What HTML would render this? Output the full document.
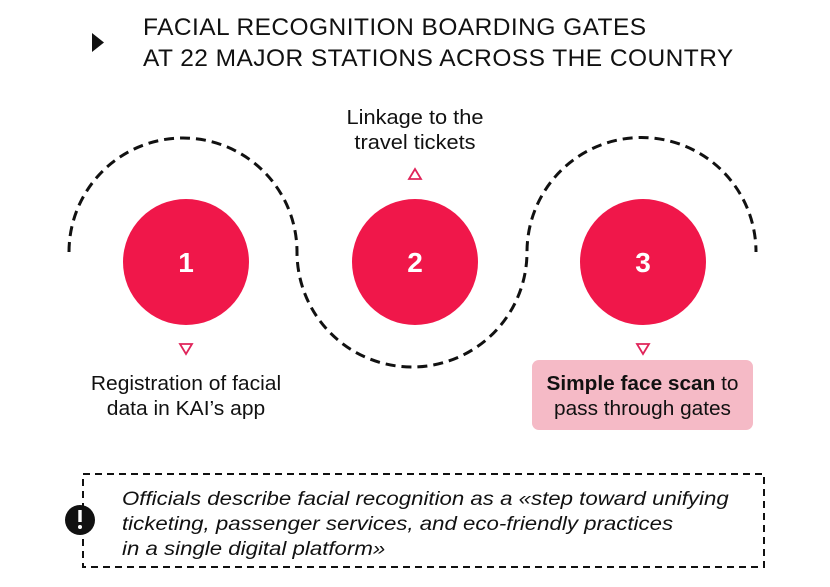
<!DOCTYPE html>
<html><head><meta charset="utf-8"><style>
body{margin:0;width:830px;height:587px;background:#fff;overflow:hidden;font-family:"Liberation Sans",sans-serif;color:#111}
.t{position:absolute;white-space:nowrap}
</style></head><body>
<svg width="830" height="587" style="position:absolute;left:0;top:0">
<polygon points="92,33 104,42.5 92,52" fill="#111"/>
<path d="M69,252 A114,114 0 0 1 297,252 A115,115 0 0 0 527,252 A114,114 0 0 1 756,252" fill="none" stroke="#111" stroke-width="3" stroke-dasharray="10,6"/>
<circle cx="186" cy="262" r="63" fill="#f0174a"/>
<circle cx="415" cy="262" r="63" fill="#f0174a"/>
<circle cx="643" cy="262" r="63" fill="#f0174a"/>
<text x="186" y="272" font-size="28" font-weight="bold" fill="#fff" text-anchor="middle" font-family="Liberation Sans">1</text>
<text x="415" y="272" font-size="28" font-weight="bold" fill="#fff" text-anchor="middle" font-family="Liberation Sans">2</text>
<text x="643" y="272" font-size="28" font-weight="bold" fill="#fff" text-anchor="middle" font-family="Liberation Sans">3</text>
<polygon points="180,344 192,344 186,354" fill="none" stroke="#e0245a" stroke-width="1.8"/>
<polygon points="637,344 649,344 643,354" fill="none" stroke="#e0245a" stroke-width="1.8"/>
<polygon points="409,179 421,179 415,169" fill="none" stroke="#e0245a" stroke-width="1.8"/>
<rect x="532" y="360" width="221" height="70" rx="7" fill="#f5bac6"/>
<rect x="83" y="474" width="681" height="93" fill="none" stroke="#111" stroke-width="2" stroke-dasharray="7,5"/>
<circle cx="80" cy="520" r="15" fill="#111"/>
<rect x="78.3" y="510" width="3.4" height="12" fill="#fff"/>
<circle cx="80" cy="527" r="2" fill="#fff"/>
</svg>
<div class="t" style="left:143px;top:12px;font-size:24.5px;line-height:31px;letter-spacing:0.45px">FACIAL RECOGNITION BOARDING GATES<br>AT 22 MAJOR STATIONS ACROSS THE COUNTRY</div>
<div class="t" style="left:315px;width:200px;top:106px;font-size:20px;line-height:25px;text-align:center;transform:scaleX(1.09)">Linkage to the<br>travel tickets</div>
<div class="t" style="left:86px;width:200px;top:372px;font-size:20px;line-height:25px;text-align:center;transform:scaleX(1.05)">Registration of facial<br>data in KAI’s app</div>
<div class="t" style="left:532px;width:221px;top:372px;font-size:20px;line-height:25px;text-align:center;transform:scaleX(1.04)"><b>Simple face scan</b> to<br>pass through gates</div>
<div class="t" style="left:122px;top:487px;font-size:19.5px;line-height:25px;font-style:italic;transform:scaleX(1.14);transform-origin:0 0">Officials describe facial recognition as a «step toward unifying<br>ticketing, passenger services, and eco-friendly practices<br>in a single digital platform»</div>
</body></html>
